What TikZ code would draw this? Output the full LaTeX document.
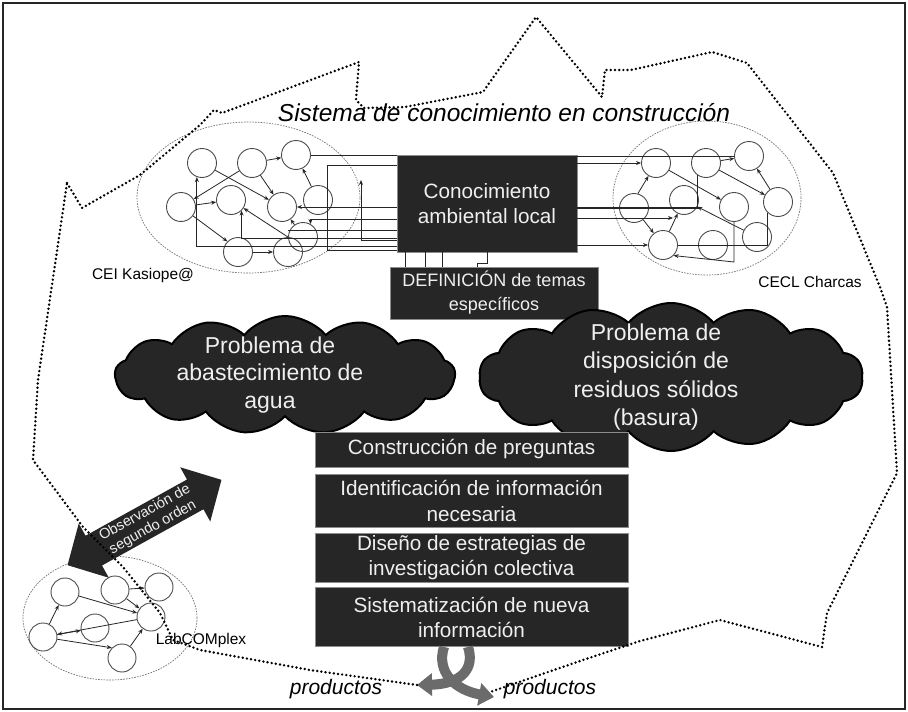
\documentclass[tikz,border=0pt]{standalone}
\usepackage{fontspec}
\setmainfont{Liberation Sans}
\usetikzlibrary{shapes.symbols,shapes.geometric,arrows.meta}
\definecolor{boxfill}{HTML}{262626}
\definecolor{boxtext}{HTML}{EFEFEF}
\definecolor{ribboncol}{HTML}{6B6B6B}
\begin{document}
\begin{tikzpicture}[x=1pt,y=-1pt,
  darkbox/.style={fill=boxfill, draw=black!45, line width=0.8pt, text=boxtext, align=center, inner sep=0pt},
  circ/.style={circle, draw=black!70, line width=0.9pt, minimum size=29pt, inner sep=0pt},
  smallcirc/.style={circ, minimum size=28pt},
  lnk/.style={draw=black!85, line width=0.8pt},
  arr/.style={lnk, -{Stealth[length=5pt,width=4pt]}},
  clusterell/.style={ellipse, draw=black!55, line width=0.7pt, dash pattern=on 1.6pt off 1.2pt, inner sep=0pt},
  boundary/.style={line width=2.7pt, dash pattern=on 0pt off 4.2pt, line cap=round, line join=round},
  cloudnode/.style={cloud, cloud ignores aspect, fill=boxfill, draw=black, line width=2pt, inner sep=0pt},
  cloudtext/.style={text=boxtext, align=center},
  lbl/.style={font=\fontsize{15.5}{18}\selectfont, text=black},
  band/.style={draw=ribboncol, line width=10pt, -{Triangle[width=22pt,length=15pt]}},
]
\fill[white] (0,0) rectangle (908,712);
\useasboundingbox (0,0) rectangle (908,712);
\draw[line width=1.6pt, black!85] (3,3) rectangle (905,709);

% cluster ellipses
\node[clusterell, minimum width=223pt, minimum height=151pt] (elL) at (248.5,197.5) {};
\node[clusterell, minimum width=188pt, minimum height=154pt] (elR) at (707,198) {};
\node[clusterell, minimum width=174pt, minimum height=124pt] (elB) at (110,618) {};

% circles
\foreach \n/\px/\py in {1/202/163,2/252/163,3/296/155,4/181/207,5/231/200,6/282/207,7/318/200,8/303/237,9/238/252,10/288/252}
  \node[circ] (lc\n) at (\px,\py) {};
\foreach \n/\px/\py in {1/656/163,2/706/163,3/749/156,4/634/208,5/684/200,6/734/207,7/778/202,8/757/237,9/663/245,10/713/245}
  \node[circ] (rc\n) at (\px,\py) {};
\foreach \n/\px/\py in {1/65/592,2/115/590,3/159/587,4/151/617,5/43/637,6/95/628,7/122/658}
  \node[smallcirc] (lb\n) at (\px,\py) {};

% main boxes
\node[darkbox, minimum width=180pt, minimum height=97pt, font=\fontsize{20.7}{25}\selectfont] (kb) at (487,203.5) {Conocimiento\\ambiental local};
\node[darkbox, minimum width=208pt, minimum height=52pt, font=\fontsize{18}{24}\selectfont] (def) at (494,293) {DEFINICIÓN de temas\\específicos};

% bend coordinates
\coordinate (bL1) at (327,250);
\coordinate (bL2) at (361,180);
\coordinate (rJ1) at (673,218);

% left cluster internal connectors
\draw[arr] (lc1) -- (lc6);
\draw[arr] (lc2) -- (lc3);
\draw[arr] (lc2) -- (lc6);
\draw[arr] (lc2) -- (lc4);
\draw[arr] (lc4) -- (lc5);
\draw[arr] (lc4) -- (lc9.north west);
\draw[arr] (lc7) -- (lc3);
\draw[arr] (lc8) -- (lc6);
\draw[arr] (lc9) -- (lc10);
\draw[arr] (lc10.north) -- (lc5);
% left cluster to box
\draw[lnk] (lc3.east) -- (kb.west |- lc3.east);
\draw[lnk] (kb.west |- 0,165) -| (bL1) -- (kb.west |- bL1);
\draw[arr] (kb.west |- 0,240) -| (bL2);
\draw[arr] (kb.west |- lc6) -- (lc6);
\draw[arr] (kb.west |- 0,219) -| (lc8.60);
\draw[lnk] (kb.west |- 0,230) -- (lc8.west |- 0,230);
\draw[arr] (kb.west |- 0,238) -| (lc5.south east);
\draw[arr] (kb.west |- 0,246) -| (lc1.250);

% right cluster internal connectors
\draw[arr] (rc1) -- (rc6);
\draw[arr] (rc2) -- (rc3);
\draw[arr] (rc7) -- (rc3);
\draw[arr] (rc2) -- (rc7);
\draw[arr] (rc4) -- (rc9);
\draw[arr] (rc9) -- (rc5);
\draw[arr] (rc8) -- (rc5);
\draw[arr] (rc4.75) -- (rc1.240);
\draw[lnk] (rc2.235) -- (rc2.235 |- rc4);
% right cluster to box
\draw[lnk] (kb.east |- rc3.west) -- (rc3.west);
\draw[arr] (kb.east |- rc1.west) -- (rc1.west);
\draw[lnk, line width=1.4pt] (kb.east |- rc4.west) -- (rc5.east |- rc4.west);
\draw[arr] (kb.east |- rJ1) -- (rJ1);
\draw[arr] (kb.east |- rc9.west) -- (rc9.west);
\draw[lnk] (rc9.east) -- (rc7.south west |- rc9.east) -- (rc7.south west);
\draw[arr] (rc6.south) -- (rc6.south |- 0,262) -- (rc9.south east);

% box to DEFINICION
\foreach \xx in {405,425,442}
  \draw[lnk] (kb.south -| \xx,0) -- (def.north -| \xx,0);
\draw[lnk] (kb.south -| 487,0) -- (487,263) -- (477,263) -- (def.north -| 477,0);

% LabCOMplex connectors
\draw[arr] (lb1) -- (lb4);
\draw[arr] (lb2) -- (lb3);
\draw[arr] (lb4) -- (lb5);
\draw[arr] (lb5) -- (lb1);
\draw[arr] (lb5) -- (lb6);
\draw[arr] (lb5) -- (lb7.north west);
\draw[arr] (lb7) -- (lb4);
\draw[arr] (lb2) -- (lb4);

% clouds
\node[cloudnode, cloud puffs=13, cloud puff arc=100, minimum width=340pt, minimum height=118pt] (cloudA) at (285,375) {};
\node[cloudnode, cloud puffs=14, cloud puff arc=100, minimum width=384pt, minimum height=148pt] (cloudB) at (671,377) {};
\node[cloudtext, font=\fontsize{23}{27.5}\selectfont] (textA) at (270,375) {Problema de\\abastecimiento de\\agua};
\node[cloudtext, font=\fontsize{23}{28.5}\selectfont] (textB) at (656,377) {Problema de\\disposición de\\residuos sólidos\\(basura)};

% steps
\node[darkbox, minimum width=313pt, minimum height=35pt, font=\fontsize{20.7}{26}\selectfont] (s1) at (471.5,449.5) {Construcción de preguntas};
\node[darkbox, minimum width=313pt, minimum height=53pt, font=\fontsize{20.7}{26}\selectfont] (s2) at (471.5,500.5) {Identificación de información\\necesaria};
\node[darkbox, minimum width=313pt, minimum height=49pt, font=\fontsize{20.7}{25}\selectfont] (s3) at (471.5,558) {Diseño de estrategias de\\investigación colectiva};
\node[darkbox, minimum width=313pt, minimum height=59pt, font=\fontsize{20.7}{25}\selectfont] (s4) at (471.5,617) {Sistematización de nueva\\información};

% observation arrow
\begin{scope}[shift={(144.5,522.5)}, rotate=29]
  \fill[boxfill] (88,0) -- (58,-31) -- (58,-17) -- (-58,-17) -- (-58,-31) -- (-88,0) -- (-58,31) -- (-58,17) -- (58,17) -- (58,31) -- cycle;
  \node[text=boxtext, align=center, rotate=29, font=\fontsize{14.5}{16.5}\selectfont] (obs) at (5,0) {Observación de\\segundo orden};
\end{scope}

% product ribbons
\coordinate (prodL) at (417,685);
\coordinate (prodR) at (494,697);
\draw[band] (s4.south -| 444,0) .. controls (436,672) and (455,690) .. (prodR);
\draw[band] (s4.south -| 468,0) .. controls (475,668) and (462,684) .. (prodL);

% system boundary
\draw[boundary] (67,183) -- (82,208) -- (140,175) -- (200,125) -- (214,110) -- (222,113) -- (359,62) -- (356,100) -- (364,108) -- (405,107) -- (483,92) -- (536,17) -- (602,97) -- (605,70) -- (631,70) -- (712,52) -- (747,63) -- (833,173) -- (880,287) -- (887,307) -- (897,473) -- (827,613) -- (822,647) -- (720,620) -- (640,641) -- (583,660) -- (490,692);
\draw[boundary] (417,685) -- (310,670) -- (200,650) -- (173,640) -- (160,613) -- (123,567) -- (83,527) -- (33,460) -- (38,380) -- (67,183);

% texts
\node[font=\itshape\fontsize{24.5}{29}\selectfont] (title) at (504,113) {Sistema de conocimiento en construcción};
\node[lbl] (lblL) at (143,275) {CEI Kasiope@};
\node[lbl] (lblR) at (810,282) {CECL Charcas};
\node[lbl] (lblB) at (201,640) {LabCOMplex};
\node[font=\itshape\fontsize{21}{25}\selectfont] (prodLt) at (336,689) {productos};
\node[font=\itshape\fontsize{21}{25}\selectfont] (prodRt) at (550,689) {productos};
\end{tikzpicture}
\end{document}
